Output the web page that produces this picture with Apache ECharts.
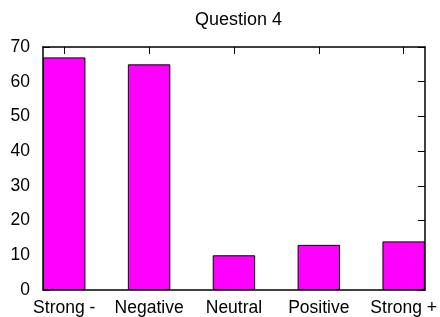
<!DOCTYPE html>
<html>
<head>
<meta charset="utf-8">
<script src="https://cdn.jsdelivr.net/npm/echarts@6/dist/echarts.min.js"></script>
<style>
  html, body { margin: 0; padding: 0; background: #fff; }
  #chart { width: 440px; height: 317px; }
</style>
</head>
<body>
<div id="chart"></div>
<script>
// data
const categories = ['Strong -', 'Negative', 'Neutral', 'Positive', 'Strong +']
const counts = [67, 65, 10, 13, 14]
const positions = [0, 1, 2, 3, 4]
const yTicks = [0, 10, 20, 30, 40, 50, 60, 70]

const font = 'Liberation Sans, Arial, Helvetica, sans-serif'
const lineStyle = { color: '#000', width: 1.5 }

const chart = echarts.init(document.getElementById('chart'))

const xBase = {
  type: 'value',
  min: -0.25,
  max: 4.25,
  axisLine: { show: true, onZero: false, lineStyle },
  axisTick: { show: true, inside: true, length: 7, customValues: positions, lineStyle: { color: '#000', width: 1 } },
  splitLine: { show: false }
}
const yBase = {
  type: 'value',
  min: yTicks[0],
  max: yTicks[yTicks.length - 1],
  interval: 10,
  axisLine: { show: true, onZero: false, lineStyle },
  axisTick: { show: true, inside: true, length: 7, lineStyle: { color: '#000', width: 1 } },
  splitLine: { show: false }
}

chart.setOption({
  animation: false,
  backgroundColor: '#fff',
  title: {
    text: 'Question 4',
    left: 190,
    top: 6,
    textStyle: { fontFamily: font, fontSize: 18, fontWeight: 'normal', color: '#000' }
  },
  grid: { left: 43, right: 14, top: 47, bottom: 27 },
  xAxis: [
    Object.assign({}, xBase, {
      position: 'bottom',
      axisLabel: {
        customValues: positions,
        formatter: v => categories[Math.round(v)],
        margin: 9,
        color: '#000',
        fontFamily: font,
        fontSize: 17.5
      }
    }),
    Object.assign({}, xBase, { position: 'top', axisLabel: { show: false } })
  ],
  yAxis: [
    Object.assign({}, yBase, {
      position: 'left',
      axisLabel: { margin: 13, color: '#000', fontFamily: font, fontSize: 17.5 }
    }),
    Object.assign({}, yBase, { position: 'right', axisLabel: { show: false } })
  ],
  series: [{
    type: 'bar',
    barWidth: '50%',
    data: positions.map((p, i) => [p, counts[i]]),
    itemStyle: { color: '#ff00ff', borderColor: '#000', borderWidth: 1 }
  }]
})
</script>
</body>
</html>
